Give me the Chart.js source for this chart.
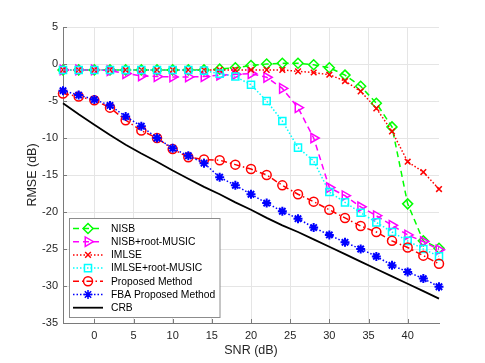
<!DOCTYPE html>
<html>
<head>
<meta charset="utf-8">
<script src="https://cdn.jsdelivr.net/npm/chart.js@4"></script>
<style>
  html, body { margin: 0; padding: 0; background: #fff; }
  canvas { display: block; }
</style>
</head>
<body>
<canvas id="myChart" width="485" height="363"></canvas>
<script>
// data (SNR in dB, RMSE in dB)
const snr = [-4, -2, 0, 2, 4, 6, 8, 10, 12, 14, 16, 18, 20, 22, 24, 26, 28, 30, 32, 34, 36, 38, 40, 42, 44]

const nisb = [-0.8, -0.8, -0.8, -0.8, -0.8, -0.8, -0.8, -0.8, -0.8, -0.8, -0.7, -0.5, -0.2, 0.0, 0.1, 0.1, -0.1, -0.5, -1.5, -3.0, -5.3, -8.5, -18.9, -23.9, -24.9]
const nisbMusic = [-0.8, -0.8, -0.8, -0.9, -1.3, -1.6, -1.7, -1.75, -1.75, -1.7, -1.5, -1.4, -1.3, -1.8, -3.3, -5.9, -10.0, -16.7, -17.8, -19.3, -20.5, -21.8, -23.1, -24.0, -25.1]
const imlse = [-0.8, -0.8, -0.8, -0.8, -0.8, -0.8, -0.8, -0.8, -0.8, -0.8, -0.8, -0.8, -0.8, -0.8, -0.8, -1.0, -1.15, -1.45, -2.3, -3.7, -6.0, -9.1, -13.2, -14.6, -16.9]
const imlseMusic = [-0.8, -0.8, -0.8, -0.8, -0.8, -0.8, -0.8, -0.8, -0.8, -0.9, -1.3, -1.7, -2.8, -5.0, -7.7, -11.3, -13.1, -17.3, -18.7, -20.1, -21.4, -22.7, -23.9, -25.0, -26.0]
const proposed = [-4.0, -4.4, -4.9, -5.9, -7.6, -9.0, -10.0, -11.5, -12.6, -12.9, -13.0, -13.6, -14.2, -15.0, -16.4, -17.6, -18.6, -19.7, -20.8, -21.9, -22.7, -23.9, -24.8, -25.9, -27.0]
const fba = [-3.6, -4.2, -4.8, -5.6, -7.1, -8.4, -10.0, -11.4, -12.4, -13.4, -15.3, -16.4, -17.6, -18.8, -19.9, -20.9, -22.1, -23.1, -24.1, -25.0, -26.0, -27.2, -28.1, -29.0, -30.1]
const crb = [-5.3, -6.8, -8.2, -9.6, -10.9, -12.1, -13.2, -14.4, -15.5, -16.6, -17.6, -18.7, -19.7, -20.8, -21.8, -22.7, -23.7, -24.7, -25.7, -26.7, -27.7, -28.7, -29.7, -30.7, -31.7]

const xTicks = [0, 5, 10, 15, 20, 25, 30, 35, 40]
const yTicks = [-35, -30, -25, -20, -15, -10, -5, 0, 5]

const FONT = "'Liberation Sans', Arial, Helvetica, sans-serif"
const AXIS = '#7a7a7a'

function pts(ys) {
    return snr.map((x, i) => ({ x: x, y: ys[i] }))
}

function series(label, ys, color, dash, style, radius, order, extra) {
    return Object.assign({
        label: label,
        data: pts(ys),
        borderColor: color,
        backgroundColor: color,
        borderWidth: 1.5,
        borderDash: dash,
        pointStyle: style,
        pointRadius: radius,
        pointBorderColor: color,
        pointBackgroundColor: 'rgba(0,0,0,0)',
        pointBorderWidth: 1.5,
        pointRotation: 0,
        tension: 0,
        clip: false,
        order: order
    }, extra || {})
}

// legend drawn inside the axes, like the matlab one
const insideLegend = {
    id: 'insideLegend',
    afterDraw(chart) {
        const ctx = chart.ctx
        const x0 = 69.5, y0 = 218.5, w = 150.5, h = 99
        ctx.save()
        ctx.fillStyle = '#fff'
        ctx.fillRect(x0, y0, w, h)
        ctx.strokeStyle = '#8c8c8c'
        ctx.lineWidth = 1
        ctx.strokeRect(x0, y0, w, h)
        chart.data.datasets.forEach((ds, i) => {
            const y = 228.5 + i * 13.2
            ctx.strokeStyle = ds.borderColor
            ctx.lineWidth = ds.borderWidth
            ctx.setLineDash(ds.borderDash || [])
            ctx.beginPath()
            ctx.moveTo(73, y)
            ctx.lineTo(103, y)
            ctx.stroke()
            ctx.setLineDash([])
            if (ds.pointRadius > 0) {
                ctx.strokeStyle = ds.pointBorderColor
                ctx.fillStyle = ds.pointBackgroundColor
                Chart.helpers.drawPoint(ctx, {
                    pointStyle: ds.pointStyle,
                    rotation: ds.pointRotation,
                    radius: ds.pointRadius,
                    borderWidth: ds.pointBorderWidth
                }, 88, y)
            }
            ctx.fillStyle = '#000'
            ctx.font = '10.3px ' + FONT
            ctx.textBaseline = 'middle'
            ctx.textAlign = 'left'
            ctx.fillText(ds.label, 111, y + 0.5)
        })
        ctx.restore()
    }
}

// inward tick marks
const innerTicks = {
    id: 'innerTicks',
    afterDatasetsDraw(chart) {
        const ctx = chart.ctx
        const a = chart.chartArea
        const sx = chart.scales.x, sy = chart.scales.y
        ctx.save()
        ctx.strokeStyle = AXIS
        ctx.lineWidth = 1
        ctx.beginPath()
        xTicks.forEach(v => {
            const px = Math.round(sx.getPixelForValue(v)) + 0.5
            ctx.moveTo(px, a.bottom)
            ctx.lineTo(px, a.bottom - 4)
        })
        yTicks.forEach(v => {
            const py = Math.round(sy.getPixelForValue(v)) + 0.5
            ctx.moveTo(a.left, py)
            ctx.lineTo(a.left + 4, py)
        })
        ctx.stroke()
        ctx.restore()
    }
}

const ctx = document.getElementById('myChart').getContext('2d')
const myChart = new Chart(ctx, {
    type: 'line',
    data: {
        datasets: [
            series('NISB', nisb, '#00ff00', [6, 4], 'rectRot', 5, 7),
            series('NISB+root-MUSIC', nisbMusic, '#ff00ff', [6, 4], 'triangle', 5.5, 6, { pointRotation: 90 }),
            series('IMLSE', imlse, '#ff0000', [1.5, 2], 'crossRot', 4, 5),
            series('IMLSE+root-MUSIC', imlseMusic, '#00ffff', [1.5, 2], 'rect', 5, 4),
            series('Proposed Method', proposed, '#ff0000', [6, 3, 1.5, 3], 'circle', 4.5, 3),
            series('FBA Proposed Method', fba, '#0000ff', [1.5, 2], 'star', 4.5, 2, { pointBorderWidth: 2 }),
            series('CRB', crb, '#000000', [], 'circle', 0, 1, { borderWidth: 1.8 })
        ]
    },
    options: {
        responsive: false,
        animation: false,
        events: [],
        layout: { padding: { top: 27, right: 46, left: 0, bottom: 0 } },
        plugins: {
            legend: { display: false },
            tooltip: { enabled: false }
        },
        scales: {
            x: {
                type: 'linear',
                min: -4,
                max: 44,
                afterBuildTicks: s => { s.ticks = xTicks.map(v => ({ value: v })) },
                afterFit: s => { s.height = 40 },
                ticks: {
                    color: '#262626',
                    font: { family: FONT, size: 11 },
                    padding: 6,
                    maxRotation: 0,
                    autoSkip: false
                },
                grid: { color: '#e5e5e5', lineWidth: 1, drawTicks: false },
                border: { color: AXIS, width: 1 },
                title: {
                    display: true,
                    text: 'SNR (dB)',
                    color: '#262626',
                    font: { family: FONT, size: 12.5 },
                    padding: { top: 0, bottom: 4.5 }
                }
            },
            y: {
                type: 'linear',
                min: -35,
                max: 5,
                afterBuildTicks: s => { s.ticks = yTicks.map(v => ({ value: v })) },
                afterFit: s => { s.width = 63 },
                ticks: {
                    color: '#262626',
                    font: { family: FONT, size: 11 },
                    padding: 5,
                    autoSkip: false
                },
                grid: { color: '#e5e5e5', lineWidth: 1, drawTicks: false },
                border: { color: AXIS, width: 1 },
                title: {
                    display: true,
                    text: 'RMSE (dB)',
                    color: '#262626',
                    font: { family: FONT, size: 12.5 },
                    padding: { top: 25, bottom: 0 }
                }
            }
        }
    },
    plugins: [innerTicks, insideLegend]
})
</script>
</body>
</html>
